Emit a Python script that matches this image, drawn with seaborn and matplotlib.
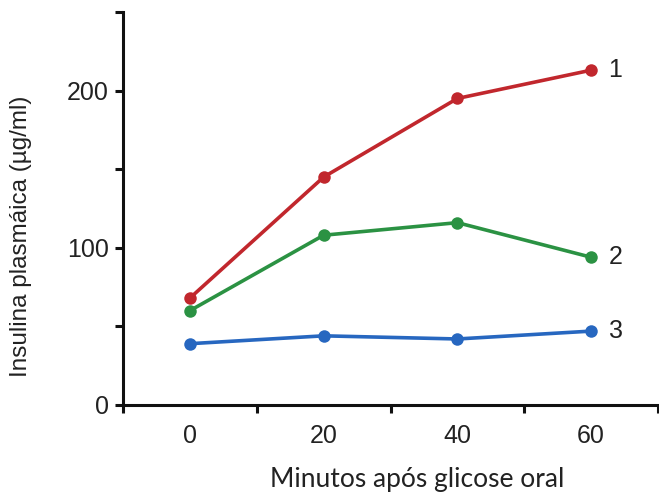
import numpy as np
import pandas as pd
import matplotlib
matplotlib.use('Agg')
import matplotlib.pyplot as plt
import seaborn as sns

# values
minutes = [0, 20, 40, 60]
curve_1 = [68, 145, 195, 213]
curve_2 = [60, 108, 116, 94]
curve_3 = [39, 44, 42, 47]
series_names = ["1", "2", "3"]
series_colors = ["#c1272d", "#2b9243", "#2767c0"]

X_TICKS = [0, 20, 40, 60]
Y_TICKS = [0, 100, 200]

sns.set_style("white")
plt.rcParams['font.family'] = ['Liberation Sans', 'DejaVu Sans']

df = pd.DataFrame({
    "min": minutes * 3,
    "ins": curve_1 + curve_2 + curve_3,
    "serie": sum([[s] * len(minutes) for s in series_names], []),
})

fig = plt.figure(figsize=(6.59, 4.97), dpi=100)
ax = fig.add_axes([123/659, 1 - 405/497, (658 - 123)/659, (405 - 12)/497])

sns.lineplot(data=df, x="min", y="ins", hue="serie", palette=series_colors,
             marker="o", markersize=9, markeredgewidth=0, linewidth=2.6,
             legend=False, ax=ax)

for name, vals, col in zip(series_names, [curve_1, curve_2, curve_3], series_colors):
    ax.text(minutes[-1] + 2.6, vals[-1], name, ha="left", va="center",
            fontsize=18, color="#222222")

ax.set_xlim(-10, 70)
ax.set_ylim(0, 250)
ax.set_xticks(X_TICKS)
ax.set_xticks([-10, 10, 30, 50, 70], minor=True)
ax.set_yticks(Y_TICKS)
ax.set_yticks([50, 150, 250], minor=True)

for side in ["top", "right"]:
    ax.spines[side].set_visible(False)
for side in ["left", "bottom"]:
    ax.spines[side].set_linewidth(2.2)
    ax.spines[side].set_color("#111111")

ax.tick_params(axis="x", which="major", bottom=False, length=0, labelsize=18,
               pad=14, colors="#222222")
ax.tick_params(axis="x", which="minor", bottom=True, length=6, width=2.2,
               direction="out", color="#111111")
ax.tick_params(axis="y", which="both", left=True, length=6, width=2.2, direction="out",
               color="#111111", labelsize=18, labelcolor="#222222", pad=4)

ax.set_ylabel("Insulina plasmáica (µg/ml)", fontsize=17.5, color="#222222")
ax.yaxis.set_label_coords(-0.17, 0.43)
ax.set_xlabel("Minutos após glicose oral", fontsize=19, color="#222222",
              family=["Lato", "DejaVu Sans"])
ax.xaxis.set_label_coords(0.55, -0.158)

fig.savefig("out.png", dpi=100)
